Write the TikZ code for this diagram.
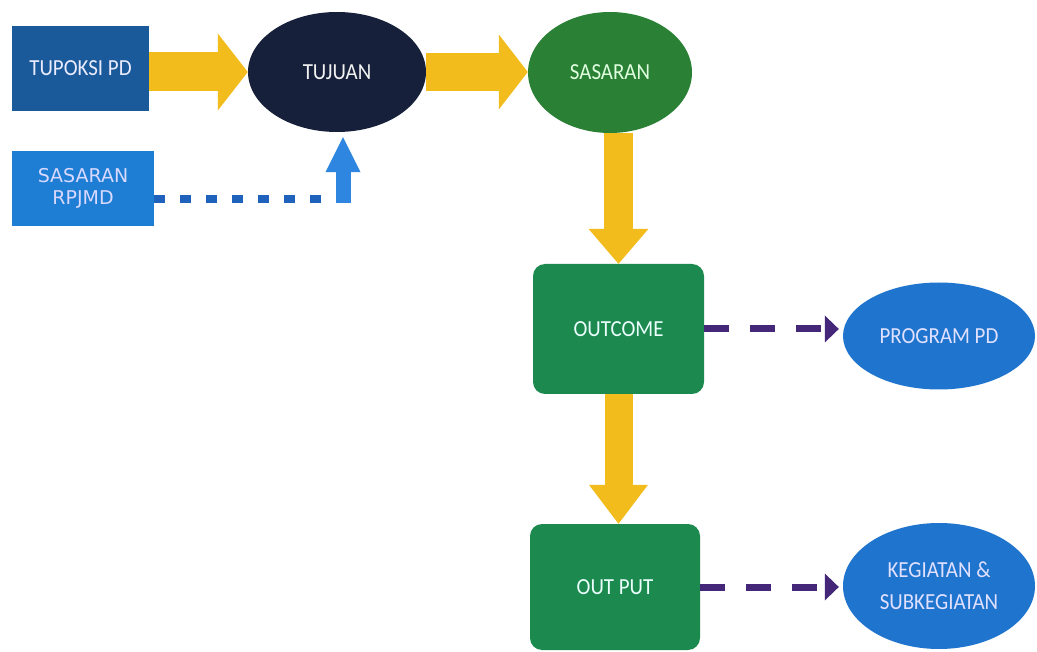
\documentclass[tikz,border=0pt]{standalone}
\usepackage{fontspec}
\setmainfont{Carlito}[FakeStretch=0.91]
\newfontfamily\dvfont{DejaVu Sans}
\usetikzlibrary{shapes.geometric,arrows.meta,calc}
\definecolor{ylw}{HTML}{F2BD1C}
\definecolor{tupblue}{HTML}{1B5A9A}
\definecolor{rpjblue}{HTML}{1E7ED4}
\definecolor{navy}{HTML}{17203A}
\definecolor{sasgreen}{HTML}{2A8034}
\definecolor{boxgreen}{HTML}{1C8A4E}
\definecolor{ellblue}{HTML}{1F74CE}
\definecolor{prp}{HTML}{45277A}
\definecolor{dotblue}{HTML}{1F62BC}
\definecolor{upblue}{HTML}{2F86E0}
\begin{document}
\begin{tikzpicture}[x=1pt,y=1pt,
  lbl/.style={font=\fontsize{23}{32}\selectfont, align=center, inner sep=0pt},
  sqbox/.style={lbl, rectangle, fill=#1},
  ellnode/.style={lbl, ellipse, fill=#1},
  gbox/.style={lbl, rectangle, rounded corners=12pt, fill=boxgreen, text=green!10!cyan!8!white, minimum width=171pt},
  blockarr/.style n args={3}{draw=ylw, line width=#1, -{Triangle[width=#2,length=#3,line width=0pt]}},
  parrow/.style={draw=prp, line width=7pt, dash pattern=on 25pt off 21pt, shorten >=4pt, -{Triangle[width=27pt,length=14pt,line width=0pt]}},
  dotline/.style={draw=dotblue, line width=8pt, dash pattern=on 11pt off 15pt},
  uparrow/.style={draw=upblue, line width=15pt, shorten >=5pt, -{Triangle[width=35pt,length=35pt,line width=0pt]}}
]
\useasboundingbox[fill=white] (0,0) rectangle (1037,-652);

% nodes
\node[sqbox=tupblue, text=blue!8!white, minimum width=137pt, minimum height=85pt] (tup) at (80.5,-68.5) {TUPOKSI PD};
\node[sqbox=rpjblue, text=blue!15!white, minimum width=142pt, minimum height=75pt,
      font=\dvfont\fontsize{19}{22}\selectfont] (rpj) at (83,-188.5) {SASARAN\\RPJMD};
\node[ellnode=navy, text=gray!10!white, minimum width=178pt, minimum height=120pt] (tuj) at (337,-72) {TUJUAN};
\node[ellnode=sasgreen, text=green!12!white, minimum width=164pt, minimum height=121pt] (sas) at (610,-72.5) {SASARAN};
\node[gbox, minimum height=130pt] (outc) at (618.5,-329) {OUTCOME};
\node[gbox, minimum width=170pt, minimum height=126pt] (outp) at (615,-587) {OUT PUT};
\node[ellnode=ellblue, text=blue!12!white, minimum width=192pt, minimum height=107pt] (prog) at (939,-336) {PROGRAM PD};
\node[ellnode=ellblue, text=blue!12!white, minimum width=192pt, minimum height=126pt] (keg) at (939,-586) {KEGIATAN \&\\SUBKEGIATAN};

% yellow block arrows
\draw[blockarr={39pt}{77pt}{30pt}] (tup.east |- tuj.west) -- (tuj.west);
\draw[blockarr={38pt}{75pt}{29pt}] (tuj.east) -- (tuj.east -| sas.west);
\draw[blockarr={29pt}{60pt}{35pt}] (outc.north |- sas.south) -- (outc.north);
\draw[blockarr={28pt}{59pt}{39pt}] (outc.south) -- (outc.south |- outp.north);

% purple dashed arrows
\draw[parrow] (outc.east) -- (outc.east -| prog.west);
\draw[parrow] (outp.east) -- (outp.east -| keg.west);

% blue dotted connector with up arrow
\coordinate (cor) at (347,-199);
\draw[dotline] ($(rpj.east)+(0,-10.5)$) -- (cor);
\draw[uparrow] ($(cor)+(-4,-4)$) -- ($(cor |- tuj.south)+(-4,0)$);
\end{tikzpicture}
\end{document}
